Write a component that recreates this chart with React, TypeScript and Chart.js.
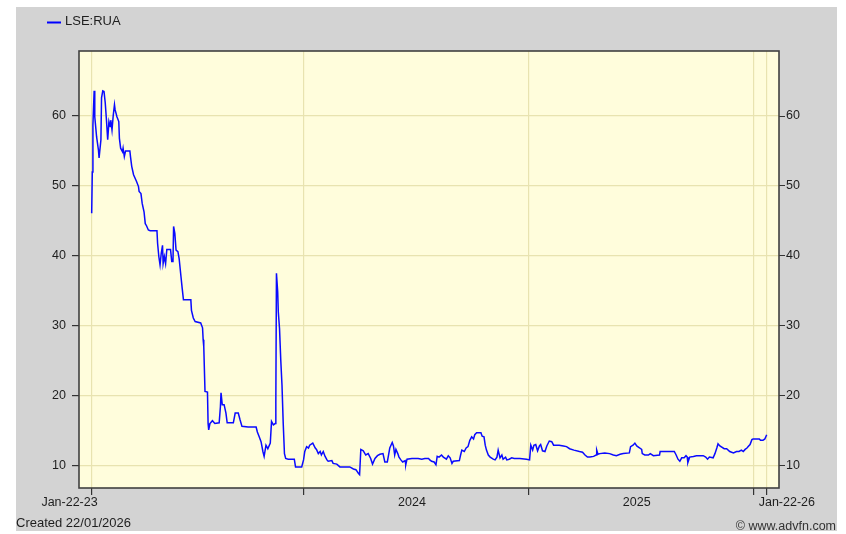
import React, { useEffect, useRef } from "react";
import { Chart, registerables } from "chart.js";

Chart.register(...registerables);

// ---- data (days since 22 Jan 2023, price) ----
const seriesLabel = "LSE:RUA";

const days = [
  0, 1, 2, 4, 5, 8, 11, 12, 15, 16,
  18, 20, 22, 24, 26, 28, 30, 31, 33, 35,
  37, 38, 41, 44, 45, 47, 50, 51, 53, 55,
  62, 63, 65, 68, 73, 76, 77, 80, 82, 85,
  87, 89, 92, 95, 106, 107, 109, 111, 113, 115,
  116, 118, 120, 122, 128, 130, 132, 133, 135, 137,
  140, 142, 145, 147, 149, 161, 162, 165, 168, 177,
  180, 181, 182, 184, 188, 189, 190, 192, 196, 200,
  207, 209, 210, 212, 215, 218, 220, 230, 233, 238,
  241, 244, 254, 267, 269, 272, 275, 278, 280, 283,
  286, 290, 292, 295, 298, 299, 300, 302, 303, 305,
  307, 309, 311, 313, 315, 319, 329, 331, 341, 344,
  346, 349, 352, 354, 359, 363, 365, 368, 371, 373,
  376, 379, 382, 384, 390, 392, 398, 403, 411, 419,
  425, 429, 433, 435, 437, 441, 445, 449, 453, 456,
  460, 464, 468, 473, 476, 480, 482, 484, 488, 490,
  492, 494, 497, 499, 502, 505, 509, 510, 512, 520,
  530, 536, 541, 547, 549, 552, 556, 559, 561, 564,
  568, 571, 576, 579, 582, 585, 587, 597, 599, 601,
  605, 608, 611, 614, 617, 620, 622, 625, 632, 634,
  637, 639, 641, 644, 647, 652, 655, 658, 660, 663,
  666, 668, 672, 674, 678, 682, 686, 695, 706, 711,
  713, 716, 718, 721, 724, 727, 729, 732, 736, 739,
  743, 747, 750, 759, 766, 771, 776, 783, 792, 797,
  801, 805, 809, 815, 819, 820, 822, 825, 833, 841,
  847, 852, 858, 863, 873, 875, 879, 882, 885, 890,
  893, 894, 898, 904, 907, 912, 922, 923, 946, 949,
  952, 955, 958, 962, 965, 967, 968, 971, 977, 982,
  993, 997, 1000, 1003, 1009, 1012, 1015, 1017, 1020, 1027,
  1031, 1036, 1042, 1047, 1051, 1055, 1058, 1061, 1064, 1066,
  1069, 1072, 1074, 1084, 1086, 1090, 1093, 1096,
];

const prices = [
  46.1, 52.0, 58.7, 63.6, 59.9, 57.0, 55.1, 54.0, 56.6, 62.6,
  63.6, 63.5, 61.9, 59.4, 56.6, 59.2, 58.5, 59.4, 58.0, 60.1,
  61.6, 60.9, 59.9, 59.2, 56.8, 55.4, 54.9, 55.4, 54.2, 55.0,
  55.0, 54.2, 52.8, 51.6, 50.6, 49.9, 49.2, 48.9, 47.5, 46.3,
  44.6, 44.3, 43.7, 43.6, 43.6, 41.8, 39.9, 38.7, 40.4, 41.5,
  38.9, 39.9, 38.9, 40.9, 40.9, 39.2, 39.2, 44.2, 43.2, 40.8,
  40.6, 39.6, 37.0, 35.3, 33.7, 33.7, 32.2, 31.1, 30.6, 30.4,
  29.7, 28.0, 27.0, 20.6, 20.5, 16.0, 15.1, 16.0, 16.4, 16.0,
  16.1, 18.4, 20.4, 18.7, 18.7, 17.5, 16.1, 16.1, 17.5, 17.5,
  16.5, 15.6, 15.5, 15.5, 14.8, 14.1, 13.4, 12.0, 11.3, 12.9,
  12.4, 13.2, 16.3, 15.8, 16.0, 18.9, 37.5, 34.9, 32.0, 29.6,
  25.1, 21.5, 16.0, 11.7, 11.0, 10.9, 10.9, 9.8, 9.8, 10.8,
  12.0, 12.7, 12.5, 12.9, 13.2, 12.5, 12.3, 11.7, 12.0, 11.5,
  12.0, 11.3, 10.8, 10.6, 10.7, 10.3, 10.2, 9.8, 9.8, 9.8,
  9.5, 9.4, 8.9, 8.7, 12.3, 12.1, 11.5, 11.7, 11.0, 10.2,
  11.0, 11.4, 11.6, 11.7, 10.5, 10.5, 11.5, 12.5, 13.3, 12.8,
  11.5, 12.3, 11.7, 11.2, 10.8, 10.5, 10.7, 10.1, 10.9, 11.0,
  11.0, 10.9, 11.0, 11.0, 10.8, 10.6, 10.5, 10.1, 11.3, 11.2,
  11.5, 11.2, 10.9, 11.4, 11.1, 10.3, 10.6, 10.7, 11.5, 12.2,
  12.0, 12.5, 12.7, 13.6, 14.1, 13.8, 14.4, 14.7, 14.7, 14.2,
  14.1, 12.9, 12.2, 11.5, 11.2, 10.9, 10.8, 11.2, 12.2, 11.1,
  11.5, 10.9, 11.2, 10.8, 10.9, 11.1, 11.0, 11.0, 10.9, 10.8,
  12.9, 12.2, 12.9, 13.0, 12.1, 12.8, 13.0, 12.1, 12.0, 12.8,
  13.5, 13.4, 12.9, 12.9, 12.8, 12.7, 12.4, 12.2, 12.0, 11.9,
  11.5, 11.2, 11.2, 11.3, 11.5, 12.2, 11.6, 11.7, 11.8, 11.7,
  11.5, 11.4, 11.6, 11.7, 11.8, 12.7, 12.9, 13.2, 12.8, 12.5,
  12.3, 11.7, 11.5, 11.5, 11.7, 11.4, 11.5, 12.0, 12.0, 11.5,
  10.9, 10.6, 11.1, 11.1, 11.4, 11.2, 10.4, 11.2, 11.3, 11.4,
  11.4, 11.2, 10.9, 11.2, 11.1, 11.7, 12.5, 13.1, 12.8, 12.4,
  12.4, 12.0, 11.8, 12.0, 12.0, 12.2, 12.0, 12.3, 12.5, 12.7,
  13.0, 13.7, 13.8, 13.8, 13.6, 13.6, 13.8, 14.4,
];

const yTicks = [10, 20, 30, 40, 50, 60];
const yMin = 6.78;
const yMax = 69.3;

// x grid/tick positions: start, 1 Jan 2024, 1 Jan 2025, 1 Jan 2026, end
const xGridDays = [0, 344, 710, 1075, 1096];
const xMin = -20.6;
const xMax = 1116;
const xLabelTexts = ["Jan-22-23", "2024", "2025", "Jan-22-26"];
const xLabelDays = [0, 520, 885, 1096];

const createdText = "Created 22/01/2026";
const creditText = "\u00A9 www.advfn.com";

const W = 846;
const H = 534;
const FONT = '"Liberation Sans", Arial, sans-serif';
const GRID = "#e8e3b0";
const TICKC = "#333333";
const TEXTC = "#1e1e1e";

export default function App() {
  const ref = useRef<HTMLCanvasElement>(null);

  useEffect(() => {
    const canvas = ref.current;
    if (!canvas) return;

    const deco = {
      id: "deco",
      beforeDraw(chart: any) {
        const { ctx, chartArea: a } = chart;
        ctx.save();
        ctx.fillStyle = "#ffffff";
        ctx.fillRect(0, 0, W, H);
        ctx.fillStyle = "#d3d3d3";
        ctx.fillRect(16, 7, 821, 524);
        ctx.fillStyle = "#fffddc";
        ctx.fillRect(a.left, a.top, a.right - a.left, a.bottom - a.top);
        ctx.restore();
      },
      afterDraw(chart: any) {
        const { ctx, chartArea: a, scales } = chart;
        ctx.save();
        ctx.strokeStyle = "#404040";
        ctx.lineWidth = 1.6;
        ctx.strokeRect(a.left, a.top, a.right - a.left, a.bottom - a.top);

        // legend
        ctx.strokeStyle = "#0000ff";
        ctx.lineWidth = 2;
        ctx.beginPath();
        ctx.moveTo(47, 22.5);
        ctx.lineTo(61, 22.5);
        ctx.stroke();
        ctx.fillStyle = TEXTC;
        ctx.font = `13px ${FONT}`;
        ctx.textBaseline = "middle";
        ctx.textAlign = "left";
        ctx.fillText(seriesLabel, 65, 21.5);

        // x labels
        ctx.font = `12.5px ${FONT}`;
        const xs = scales.x;
        const last = xLabelTexts.length - 1;
        xLabelTexts.forEach((t, i) => {
          const px = xs.getPixelForValue(xLabelDays[i]);
          if (i === 0) {
            ctx.textAlign = "right";
            ctx.fillText(t, px + 6, 503);
          } else if (i === last) {
            ctx.textAlign = "left";
            ctx.fillText(t, px - 8, 503);
          } else {
            ctx.textAlign = "center";
            ctx.fillText(t, px, 503);
          }
        });

        // footer
        ctx.font = `13px ${FONT}`;
        ctx.textAlign = "left";
        ctx.fillText(createdText, 16, 523.5);
        ctx.font = `12.5px ${FONT}`;
        ctx.textAlign = "right";
        ctx.fillStyle = "#333";
        ctx.fillText(creditText, 836, 527);
        ctx.restore();
      },
    };

    const setYTicks = (s: any) => {
      s.ticks = yTicks.map((v) => ({ value: v }));
    };

    const chart = new Chart(canvas, {
      type: "line",
      data: {
        datasets: [
          {
            label: seriesLabel,
            data: days.map((d, i) => ({ x: d, y: prices[i] })),
            borderColor: "#0a0aff",
            borderWidth: 1.5,
            pointRadius: 0,
            tension: 0,
            fill: false,
            yAxisID: "y",
            xAxisID: "x",
          },
        ],
      },
      options: {
        responsive: false,
        animation: false,
        devicePixelRatio: 1,
        events: [],
        layout: { padding: { top: 51, left: 0, right: 0, bottom: 0 } },
        plugins: {
          legend: { display: false },
          tooltip: { enabled: false },
        },
        scales: {
          x: {
            type: "linear",
            position: "bottom",
            min: xMin,
            max: xMax,
            afterBuildTicks: (s: any) => {
              s.ticks = xGridDays.map((v) => ({ value: v }));
            },
            afterFit: (s: any) => {
              s.height = 46;
            },
            grid: {
              color: GRID,
              lineWidth: 1.2,
              tickColor: TICKC,
              tickLength: 7,
              drawTicks: true,
            },
            border: { display: false },
            ticks: { display: false },
          },
          y: {
            type: "linear",
            position: "left",
            min: yMin,
            max: yMax,
            afterBuildTicks: setYTicks,
            afterFit: (s: any) => {
              s.width = 79;
            },
            grid: {
              color: GRID,
              lineWidth: 1.2,
              tickColor: TICKC,
              tickLength: 7,
            },
            border: { display: false },
            ticks: {
              color: TEXTC,
              padding: 6,
              font: { size: 12.5, family: FONT },
            },
          },
          y2: {
            type: "linear",
            position: "right",
            min: yMin,
            max: yMax,
            afterBuildTicks: setYTicks,
            afterFit: (s: any) => {
              s.width = 67;
            },
            grid: {
              drawOnChartArea: false,
              tickColor: TICKC,
              tickLength: 6,
            },
            border: { display: false },
            ticks: {
              color: TEXTC,
              padding: 1,
              font: { size: 12.5, family: FONT },
            },
          },
        },
      },
      plugins: [deco],
    } as any);

    return () => chart.destroy();
  }, []);

  return (
    <div style={{ position: "fixed", left: 0, top: 0, width: W, height: H }}>
      <canvas
        ref={ref}
        width={W}
        height={H}
        style={{ display: "block", width: W, height: H }}
      />
    </div>
  );
}
